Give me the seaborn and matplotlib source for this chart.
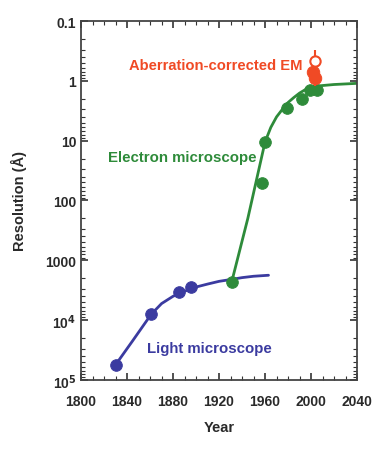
import numpy as np
import pandas as pd
import seaborn as sns
import matplotlib.pyplot as plt
from matplotlib.ticker import LogLocator, MultipleLocator, FixedLocator, NullFormatter

light_year = [1830, 1861, 1885, 1896]
light_res = [56000, 8000, 3400, 2800]
light_fit_year = [1830, 1845, 1861, 1870, 1880, 1890, 1900, 1910, 1920, 1930, 1940, 1950, 1963]
light_fit_res = [56000, 22000, 8000, 5300, 4000, 3300, 2800, 2500, 2250, 2100, 1950, 1850, 1780]

em_year = [1931, 1957, 1960, 1979, 1992, 1999, 2005]
em_res = [2300, 51, 10.5, 2.8, 2.0, 1.4, 1.4]
em_fit_year = [1931, 1945, 1955, 1960, 1965, 1970, 1975, 1980, 1985, 1990, 1995, 2000, 2005, 2020, 2040]
em_fit_res = [2300, 200, 28, 10.5, 6.0, 4.0, 3.0, 2.3, 1.9, 1.6, 1.4, 1.3, 1.22, 1.15, 1.1]

ac_year = [2002, 2003]
ac_res = [0.72, 0.9]
ac_open_year = [2003]
ac_open_res = [0.47]
ac_bar_year = [2003]
ac_bar_lo = [0.30]
ac_bar_hi = [1.2]

blue = "#3b3ba0"
green = "#2e8b3a"
red = "#f04a25"

sns.set_style("ticks")
plt.rcParams['font.family'] = ['Liberation Sans', 'DejaVu Sans']
plt.rcParams['font.weight'] = 'bold'

fig = plt.figure(figsize=(3.86, 4.60), dpi=100)
ax = fig.add_axes([0.21, 0.172, 0.715, 0.78])

sns.lineplot(x=light_fit_year, y=light_fit_res, color=blue, lw=2, ax=ax)
sns.lineplot(x=em_fit_year, y=em_fit_res, color=green, lw=2, ax=ax, sort=False)
sns.scatterplot(x=light_year, y=light_res, color=blue, s=70, edgecolor=blue, ax=ax, zorder=3)
sns.scatterplot(x=em_year, y=em_res, color=green, s=70, edgecolor=green, ax=ax, zorder=3)

ax.vlines(ac_bar_year, ac_bar_lo, ac_bar_hi, color=red, lw=1.5, zorder=4)
sns.scatterplot(x=ac_year, y=ac_res, color=red, s=80, edgecolor=red, ax=ax, zorder=5)
sns.scatterplot(x=ac_open_year, y=ac_open_res, color="white", s=55, edgecolor=red,
                linewidth=1.5, ax=ax, zorder=5)

ax.set_yscale("log")
ax.set_xlim(1800, 2040)
ax.set_ylim(1e5, 0.1)

ax.xaxis.set_major_locator(MultipleLocator(40))
ax.xaxis.set_minor_locator(MultipleLocator(10))
ax.yaxis.set_major_locator(FixedLocator([0.1, 1, 10, 100, 1000, 1e4, 1e5]))
ax.yaxis.set_minor_locator(LogLocator(base=10, subs=np.arange(2, 10)))
ax.yaxis.set_minor_formatter(NullFormatter())
ax.set_yticklabels(["0.1", "1", "10", "100", "1000", r"10$^\mathbf{4}$", r"10$^\mathbf{5}$"])

ax.tick_params(which="both", direction="in", top=True, right=True, labelsize=10,
               colors="#333333", labelcolor="#2a2a2a")
ax.tick_params(which="major", length=5, width=1.2)
ax.tick_params(which="minor", length=3, width=0.8)
ax.tick_params(axis="x", which="major", pad=10)
for lab in ax.get_xticklabels() + ax.get_yticklabels():
    lab.set_fontweight("bold")
for sp in ax.spines.values():
    sp.set_linewidth(1.3)
    sp.set_color("#444444")

ax.set_xlabel("Year", fontsize=10.5, fontweight="bold", color="#2a2a2a", labelpad=9)
ax.set_ylabel("Resolution (Å)", fontsize=10.5, fontweight="bold", color="#2a2a2a", labelpad=13)

ax.text(1917, 0.54, "Aberration-corrected EM", color=red, fontsize=10.6, fontweight="bold",
        ha="center", va="center")
ax.text(1888, 18.6, "Electron microscope", color=green, fontsize=10.8, fontweight="bold",
        ha="center", va="center")
ax.text(1912, 29000, "Light microscope", color=blue, fontsize=10.8, fontweight="bold",
        ha="center", va="center")

fig.savefig("out.png", dpi=100)
